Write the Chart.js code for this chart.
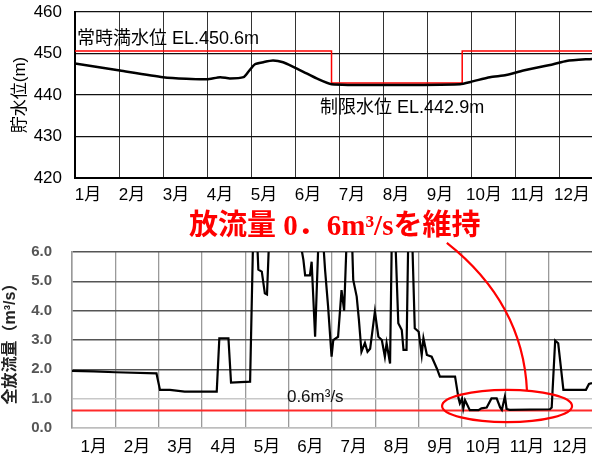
<!DOCTYPE html>
<html><head><meta charset="utf-8">
<script src="https://cdn.jsdelivr.net/npm/chart.js@4.4.1/dist/chart.umd.min.js"></script>
<style>
html,body{margin:0;padding:0;background:#fff;overflow:hidden;width:592px;height:459px}
canvas{position:absolute;left:0}
#top{top:0}
#bot{top:200px}
</style></head><body>
<canvas id="top" width="592" height="210"></canvas>
<canvas id="bot" width="592" height="259"></canvas>
<script>
// ---- data ----
const monthLabels = ['1月','2月','3月','4月','5月','6月','7月','8月','9月','10月','11月','12月'];
const levelTicks = [420, 430, 440, 450, 460];
const flowTicks = [0, 1, 2, 3, 4, 5, 6];

// reservoir water level (month position, m)
const levelMonths = [0, 1.02, 2.0, 2.53, 3.0, 3.3, 3.52, 3.83, 3.94, 4.09, 4.28, 4.5, 4.73, 4.96, 5.19, 5.49, 5.83, 7.16, 8.75, 9.01, 9.43, 9.8, 10.19, 10.87, 11.17, 11.75];
const levelValues = [447.6, 445.9, 444.3, 443.9, 443.8, 444.3, 444.0, 444.3, 445.6, 447.4, 447.9, 448.3, 447.9, 446.8, 445.6, 444.0, 442.6, 442.4, 442.6, 443.2, 444.3, 444.8, 445.9, 447.4, 448.2, 448.7];

// normal / restricted water level (step)
const ruleMonths = [0, 5.83, 8.80, 11.75];
const ruleValues = [450.6, 442.9, 450.6, 450.6];

// total discharge (month position, m3/s)
const flowMonths = [0,0.5,1.0,1.95,2.03,2.26,2.6,3.34,3.4,3.61,3.67,4.11,4.18,4.27,4.3,4.38,4.45,4.5,4.55,5.25,5.34,5.38,5.49,5.53,5.61,5.69,5.79,5.84,5.91,5.99,6.03,6.14,6.22,6.28,6.34,6.46,6.49,6.57,6.62,6.68,6.76,6.82,6.88,6.99,7.07,7.15,7.22,7.26,7.34,7.38,7.46,7.53,7.61,7.65,7.72,7.76,7.85,7.91,8.0,8.07,8.11,8.19,8.3,8.42,8.49,8.84,8.92,8.95,9.0,9.03,9.07,9.18,9.38,9.45,9.57,9.68,9.8,9.88,9.92,9.99,10.03,10.1,11.03,11.07,11.15,11.22,11.34,11.86,11.93,12.0];
const flowValues = [1.95,1.93,1.9,1.86,1.30,1.30,1.24,1.24,3.06,3.06,1.55,1.58,6.5,6.5,5.4,5.33,4.59,4.55,6.5,6.5,5.73,5.2,5.2,5.67,3.11,6.5,6.5,5.39,4.14,2.43,3.0,3.11,4.7,4.0,6.5,6.5,5.05,4.48,3.7,2.6,2.9,2.6,2.7,3.97,3.11,3.0,2.43,2.89,2.2,6.5,6.5,3.57,3.34,2.66,2.66,6.5,6.5,3.4,3.28,2.49,3.06,2.49,2.43,2.03,1.75,1.75,1.01,0.84,1.0,0.67,0.95,0.61,0.61,0.67,0.7,1.01,1.01,0.7,0.62,1.07,0.65,0.62,0.64,0.7,2.98,2.89,1.3,1.3,1.5,1.53];

// minimum discharge 0.6 m3/s
const minFlowMonths = [0, 12];
const minFlowValues = [0.6, 0.6];

const FONT = '"Liberation Sans", Arial, "Noto Sans CJK JP", sans-serif';
const pts = (xs, ys) => xs.map((x, i) => ({x, y: ys[i]}));
const noPadY = s => { s.paddingTop = 0; s.paddingBottom = 0; };
const noPadX = s => { s.paddingLeft = 0; s.paddingRight = 0; };

// ---- top chart ----
const topNotes = {
  id: 'topNotes',
  afterDatasetsDraw(chart) {
    const {ctx, scales: {x, y}} = chart;
    ctx.save();
    ctx.fillStyle = '#000';
    ctx.font = '18px ' + FONT;
    ctx.textBaseline = 'middle';
    ctx.textAlign = 'left';
    ctx.fillText('常時満水位 EL.450.6m', x.getPixelForValue(0.045), y.getPixelForValue(453.4));
    ctx.fillText('制限水位 EL.442.9m', x.getPixelForValue(5.57), y.getPixelForValue(436.9));
    ctx.restore();
  }
};

new Chart(document.getElementById('top'), {
  type: 'line',
  data: {
    datasets: [
      {data: pts(levelMonths, levelValues), borderColor: '#000', borderWidth: 2.5, pointRadius: 0, tension: 0.2},
      {data: pts(ruleMonths, ruleValues), borderColor: '#ff0000', borderWidth: 1.5, pointRadius: 0, stepped: 'before'}
    ]
  },
  options: {
    responsive: false, animation: false, devicePixelRatio: 1,
    layout: {padding: {top: 12, right: 0, left: 0, bottom: 0}},
    plugins: {legend: {display: false}, tooltip: {enabled: false}},
    scales: {
      x: {
        type: 'linear', min: 0, max: 11.75,
        afterBuildTicks: s => { s.ticks = monthLabels.map((_, i) => ({value: i})); },
        afterFit: s => { s.height = 32; noPadX(s); },
        ticks: {callback: (v, i) => monthLabels[i], labelOffset: 13, padding: 7, color: '#000',
                font: {size: 17, family: FONT}, maxRotation: 0, autoSkip: false},
        grid: {color: '#333', lineWidth: 1, drawTicks: false},
        border: {color: '#000', width: 2}
      },
      y: {
        min: 420, max: 460,
        afterBuildTicks: s => { s.ticks = levelTicks.map(v => ({value: v})); },
        afterFit: s => { s.width = 75; noPadY(s); },
        ticks: {padding: 13, color: '#000', font: {size: 17, family: FONT}},
        grid: {color: '#111', lineWidth: 1.2, drawTicks: false},
        border: {color: '#000', width: 2},
        title: {display: true, text: '貯水位(m)', color: '#000', font: {size: 17, family: FONT}, padding: {top: 10, bottom: 0}}
      }
    }
  },
  plugins: [topNotes]
});

// ---- bottom chart ----
const botNotes = {
  id: 'botNotes',
  afterDraw(chart) {
    const {ctx, scales: {x, y}} = chart;
    ctx.save();
    // label of 0.6 line
    ctx.fillStyle = '#111';
    ctx.font = '17px ' + FONT;
    ctx.textBaseline = 'middle';
    ctx.textAlign = 'left';
    ctx.fillText('0.6m³/s', x.getPixelForValue(4.96), y.getPixelForValue(1.06));
    // headline
    ctx.fillStyle = '#ff0000';
    ctx.font = 'bold 29px "Liberation Serif", "Noto Sans CJK JP", serif';
    ctx.fillText('放流量 0．6m³/sを維持', 189, 28);
    // ellipse around the kept period
    ctx.strokeStyle = '#ff0000';
    ctx.lineWidth = 2.2;
    const cx = x.getPixelForValue(10.04), cy = y.getPixelForValue(0.75);
    const rx = x.getPixelForValue(11.54) - cx, ry = y.getPixelForValue(0.2) - cy;
    ctx.beginPath();
    ctx.ellipse(cx, cy, rx, Math.abs(ry), 0, 0, Math.PI * 2);
    ctx.stroke();
    // leader curve
    ctx.beginPath();
    ctx.moveTo(x.getPixelForValue(8.65), y.getPixelForValue(6.31));
    ctx.quadraticCurveTo(x.getPixelForValue(10.41), y.getPixelForValue(4.26), x.getPixelForValue(10.5), y.getPixelForValue(1.26));
    ctx.stroke();
    ctx.restore();
  }
};

new Chart(document.getElementById('bot'), {
  type: 'line',
  data: {
    datasets: [
      {data: pts(flowMonths, flowValues), borderColor: '#000', borderWidth: 2.2, pointRadius: 0, tension: 0},
      {data: pts(minFlowMonths, minFlowValues), borderColor: '#ff2a2a', borderWidth: 2, pointRadius: 0}
    ]
  },
  options: {
    responsive: false, animation: false, devicePixelRatio: 1,
    layout: {padding: {top: 52, right: 0, left: 0, bottom: 0}},
    plugins: {legend: {display: false}, tooltip: {enabled: false}},
    scales: {
      x: {
        type: 'linear', min: 0, max: 12,
        afterBuildTicks: s => { s.ticks = monthLabels.map((_, i) => ({value: i})); },
        afterFit: s => { s.height = 31; noPadX(s); },
        ticks: {callback: (v, i) => monthLabels[i], labelOffset: 21.7, padding: 9, color: '#000',
                font: {size: 17, family: FONT}, maxRotation: 0, autoSkip: false},
        grid: {color: '#9a9a9a', lineWidth: 1.3, drawTicks: false},
        border: {color: '#bdbdbd', width: 1.5}
      },
      y: {
        min: 0, max: 6,
        afterBuildTicks: s => { s.ticks = flowTicks.map(v => ({value: v})); },
        afterFit: s => { s.width = 72; noPadY(s); },
        ticks: {padding: 20, color: '#555', font: {size: 15, family: FONT, weight: 'bold'},
                callback: v => v.toFixed(1)},
        grid: {color: c => (c.tick && c.tick.value <= 1) ? '#c8c8c8' : '#555', lineWidth: 1.6, drawTicks: false},
        border: {color: '#999', width: 1.5},
        title: {display: true, text: '全放流量（m³/s）', color: '#222', font: {size: 16, family: FONT, weight: 'bold'}, padding: {top: 1, bottom: 0}}
      }
    }
  },
  plugins: [botNotes]
});
</script>
</body></html>
